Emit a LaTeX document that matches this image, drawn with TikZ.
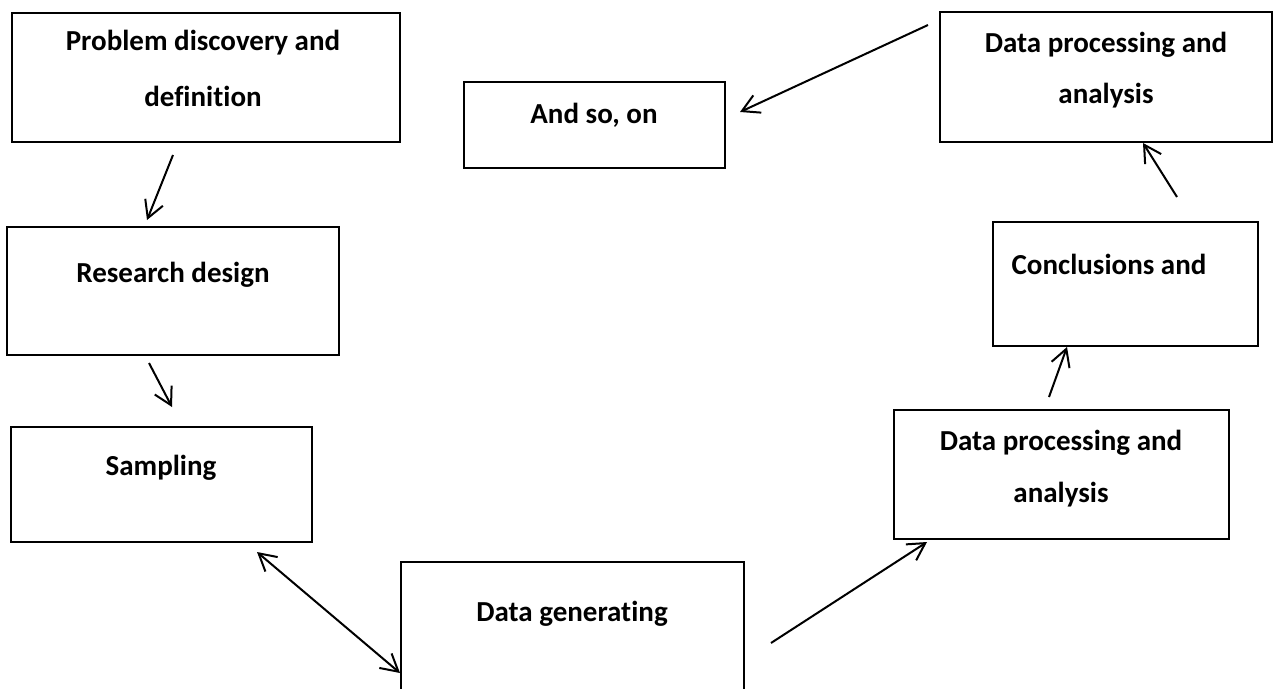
\documentclass[tikz,border=0pt]{standalone}
\usepackage{fontspec}
\setmainfont[Ligatures=NoCommon,RawFeature={-liga;-clig;-dlig}]{Carlito}
\usetikzlibrary{arrows.meta,fit}
\begin{document}
\begin{tikzpicture}[x=1pt,y=-1pt,
  boxnode/.style={draw=black, line width=2.3pt, inner sep=0pt, fill=none},
  txt/.style={anchor=base, inner sep=0pt, font=\fontsize{29}{35}\selectfont\bfseries},
  conn/.style={line width=2pt, -{Straight Barb[length=17pt,width=19pt,line width=2pt]}},
  dconn/.style={line width=2pt, {Straight Barb[length=17pt,width=19pt,line width=2pt]}-{Straight Barb[length=17pt,width=19pt,line width=2pt]}}
]
\useasboundingbox[fill=white] (0,0) rectangle (1274,688);

% boxes
\node[boxnode, fit={(12,13) (400,142)}] (prob) {};
\node[boxnode, fit={(7,227) (339,355)}] (design) {};
\node[boxnode, fit={(11,427) (312,542)}] (sampl) {};
\node[boxnode, fit={(401,562) (744,720)}] (gen) {};
\node[boxnode, fit={(894,410) (1229,539)}] (proc1) {};
\node[boxnode, fit={(993,222) (1258,346)}] (concl) {};
\node[boxnode, fit={(940,12) (1272,142)}] (proc2) {};
\node[boxnode, fit={(464,82) (725,168)}] (soon) {};

% texts
\node[txt] (probA) at (203,50) {Problem discovery and};
\node[txt] (probB) at (203,106) {definition};
\node[txt] (designA) at (173,282) {Research design};
\node[txt] (samplA) at (161,475) {Sampling};
\node[txt] (genA) at (572,621) {Data generating};
\node[txt] (proc1A) at (1061,450) {Data processing and};
\node[txt] (proc1B) at (1061,502) {analysis};
\node[txt] (conclA) at (1109,274) {Conclusions and};
\node[txt] (proc2A) at (1106,52) {Data processing and};
\node[txt] (proc2B) at (1106,103) {analysis};
\node[txt] (soonA) at (594,123) {And so, on};

% connector ends
\coordinate (a1s) at (173,155); \coordinate (a1e) at (147,220);
\coordinate (a2s) at (149,363); \coordinate (a2e) at (172,407);
\coordinate (a3s) at (257,552); \coordinate (a3e) at (400,673);
\coordinate (a4s) at (771,643); \coordinate (a4e) at (927,542);
\coordinate (a5s) at (1049,397); \coordinate (a5e) at (1067,347);
\coordinate (a6s) at (1177,197); \coordinate (a6e) at (1143,143);
\coordinate (a7s) at (928,25); \coordinate (a7e) at (740,112);

\draw[conn] (a1s) -- (a1e);
\draw[conn] (a2s) -- (a2e);
\draw[dconn] (a3s) -- (a3e);
\draw[conn] (a4s) -- (a4e);
\draw[conn] (a5s) -- (a5e);
\draw[conn] (a6s) -- (a6e);
\draw[conn] (a7s) -- (a7e);
\end{tikzpicture}
\end{document}
